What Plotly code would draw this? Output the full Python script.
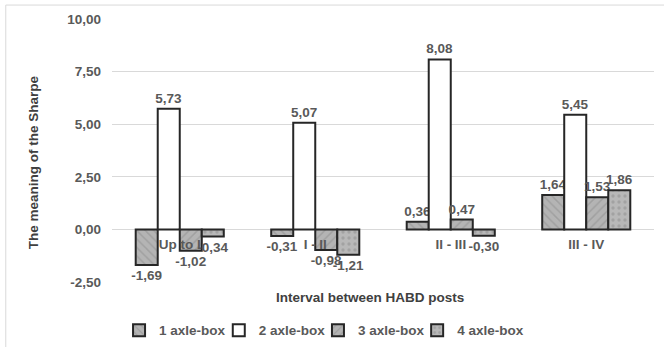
import plotly.graph_objects as go

categories = ["Up to I", "I - II", "II - III", "III - IV"]
series_names = ["1 axle-box", "2 axle-box", "3 axle-box", "4 axle-box"]
axle1 = [-1.69, -0.31, 0.36, 1.64]
axle2 = [5.73, 5.07, 8.08, 5.45]
axle3 = [-1.02, -0.98, 0.47, 1.53]
axle4 = [-0.34, -1.21, -0.30, 1.86]
y_ticks = [-2.5, 0, 2.5, 5, 7.5, 10]
y_tick_labels = ["-2,50", "0,00", "2,50", "5,00", "7,50", "10,00"]

series_values = [axle1, axle2, axle3, axle4]
styles = [
    dict(bg="#b4b4b4", shape="\\", fg="#8c8c8c"),
    dict(bg="#ffffff", shape="", fg="#ffffff"),
    dict(bg="#b4b4b4", shape="/", fg="#8c8c8c"),
    dict(bg="#b8b8b8", shape=".", fg="#8c8c8c"),
]
FONT = "Liberation Sans, Arial"
legend_ids = ["legend", "legend2", "legend3", "legend4"]
legend_x = [0.013, 0.197, 0.380, 0.563]

fig = go.Figure()
for name, vals, st, lid in zip(series_names, series_values, styles, legend_ids):
    fig.add_trace(go.Bar(
        x=categories, y=vals, name=name, legend=lid,
        marker=dict(color=st["bg"], line=dict(color="#262626", width=2),
                    pattern=dict(shape=st["shape"], fgcolor=st["fg"], bgcolor=st["bg"],
                                 size=6, solidity=0.25)),
        texttemplate="<b>%{y:.2f}</b>", textposition="outside", constraintext="none",
        cliponaxis=False,
        textfont=dict(family=FONT, size=13.5, color="#595959"),
    ))

legends = {}
for lid, lx in zip(legend_ids, legend_x):
    legends[lid] = dict(orientation="h", x=lx, xanchor="left", y=-0.125, yanchor="top",
                        font=dict(size=13.5, color="#595959", weight="bold", family=FONT),
                        itemwidth=30, bgcolor="rgba(0,0,0,0)")

fig.update_layout(
    width=664, height=347,
    margin=dict(l=112, r=10, t=19, b=65, autoexpand=False),
    paper_bgcolor="white", plot_bgcolor="white",
    barmode="group", bargap=0.35, bargroupgap=0,
    separators=",.",
    font=dict(family=FONT, size=12, color="#595959"),
    showlegend=True,
    **legends,
    xaxis=dict(anchor="free", position=0.2015, showline=False, ticks="",
               ticklabelstandoff=5, automargin=False,
               tickfont=dict(size=13.5, color="#595959", family=FONT, weight="bold"),
               showgrid=False),
    yaxis=dict(range=[-2.5, 10], tickvals=y_ticks, ticktext=y_tick_labels, automargin=False,
               gridcolor="#d9d9d9", gridwidth=1, zeroline=True, zerolinecolor="#d9d9d9",
               zerolinewidth=1, showline=False, ticks="", ticklabelstandoff=10,
               tickfont=dict(size=13.5, color="#595959", family=FONT, weight="bold")),
    annotations=[
        dict(text="<b>Interval between HABD posts</b>", xref="paper", yref="paper",
             x=0.476, y=-0.06, xanchor="center", yanchor="middle", showarrow=False,
             font=dict(size=13.5, color="#404040", family=FONT)),
        dict(text="<b>The meaning of the Sharpe</b>", xref="paper", yref="paper",
             x=-0.146, y=0.455, xanchor="center", yanchor="middle", showarrow=False,
             textangle=-90, font=dict(size=13.5, color="#404040", family=FONT)),
    ],
    shapes=[dict(type="rect", xref="paper", yref="paper", x0=-0.196, x1=1.1, y0=-0.5, y1=1.053,
                 line=dict(color="#d9d9d9", width=1), fillcolor="rgba(0,0,0,0)", layer="below")],
)
fig.write_html("out.html", config={"displayModeBar": False},
               post_script="document.body.style.margin='0';")
